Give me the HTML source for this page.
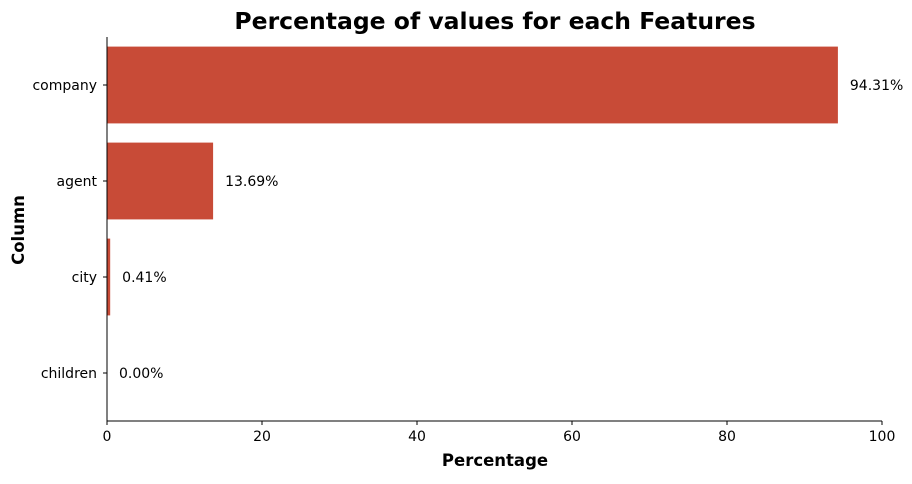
<!DOCTYPE html>
<html><head><meta charset="utf-8"><style>
body{margin:0;background:#fff;}
svg text{font-family:"DejaVu Sans","Liberation Sans",sans-serif;}
</style></head><body>
<svg width="912" height="479">
<text x="495" y="29" text-anchor="middle" font-size="23.5" font-weight="bold">Percentage of values for each Features</text>
<g id="plot"></g>
<text x="495" y="466" text-anchor="middle" font-size="16.5" font-weight="bold">Percentage</text>
<text transform="translate(24,230) rotate(-90)" text-anchor="middle" font-size="16.5" font-weight="bold">Column</text>
</svg>
<script>
const categories=["company","agent","city","children"];
const values=[94.31,13.69,0.41,0.00];
const xTicks=[0,20,40,60,80,100];
const NS="http://www.w3.org/2000/svg";
const L=107,R=882,T=37,B=421;
const x=v=>L+(v/100)*(R-L);
const band=(B-T)/categories.length;
const y=i=>T+band*i;
const g=document.getElementById('plot');
function mk(t,a){const e=document.createElementNS(NS,t);for(const k in a)e.setAttribute(k,a[k]);g.appendChild(e);return e;}
categories.forEach((c,i)=>{
 const r=mk('rect',{x:x(0),y:y(i)+band*0.1,width:x(values[i])-x(0),height:band*0.8,fill:'#C84B37'});
 
 
 const lb=mk('text',{x:x(values[i])+12,y:y(i)+band/2+5,'font-size':14});
 lb.textContent=values[i].toFixed(2)+'%';
 
 
 mk('line',{x1:L-4,x2:L,y1:y(i)+band/2,y2:y(i)+band/2,stroke:'#000'});
 const tl=mk('text',{x:L-10,y:y(i)+band/2+5,'font-size':14,'text-anchor':'end'});
 tl.textContent=c;
 
 
});
xTicks.forEach(t=>{
 mk('line',{x1:x(t),x2:x(t),y1:B,y2:B+4,stroke:'#000'});
 const tl=mk('text',{x:x(t),y:B+20,'font-size':14,'text-anchor':'middle'});
 tl.textContent=t;
 
 
});
const ax=mk('line',{x1:L,x2:L,y1:T,y2:B,stroke:'#000'});


const bx=mk('line',{x1:L,x2:R,y1:B,y2:B,stroke:'#000'});


</script>
</body></html>
